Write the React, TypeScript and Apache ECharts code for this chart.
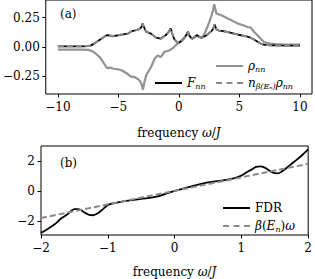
import React, { useEffect, useRef } from "react";
import * as echarts from "echarts";

const FONT = "DejaVu Serif";

// ---- panel (a) data ----
const omegaF = [-10, -9, -8, -7.5, -7.3, -7.0, -6.5, -6.0, -5.9, -5.4, -5.0, -4.6, -4.2, -3.9, -3.6, -3.3, -3.1, -3.0, -2.85, -2.7, -2.3, -1.9, -1.5, -1.1, -0.9, -0.68, -0.5, -0.4, -0.2, 0, 0.2, 0.4, 0.6, 0.75, 0.9, 1.1, 1.3, 1.5, 1.7, 1.9, 2.1, 2.3, 2.5, 2.7, 2.85, 2.95, 3.1, 3.3, 3.65, 4.0, 4.33, 4.7, 5.14, 5.5, 5.81, 6.0, 6.22, 6.5, 6.76, 7.0, 7.3, 7.57, 8, 9, 10];
const fValues = [0.006, 0.006, 0.006, 0.008, 0.012, 0.029, 0.063, 0.098, 0.1, 0.092, 0.1, 0.108, 0.114, 0.135, 0.142, 0.15, 0.17, 0.2, 0.16, 0.128, 0.114, 0.08, 0.071, 0.1, 0.12, 0.157, 0.1, 0.071, 0.045, 0.034, 0.05, 0.071, 0.1, 0.128, 0.09, 0.071, 0.085, 0.1, 0.085, 0.08, 0.09, 0.1, 0.12, 0.135, 0.16, 0.193, 0.15, 0.14, 0.136, 0.128, 0.12, 0.11, 0.1, 0.092, 0.085, 0.075, 0.063, 0.045, 0.029, 0.02, 0.016, 0.014, 0.013, 0.012, 0.012];
const nRhoValues = [0.006, 0.006, 0.006, 0.008, 0.012, 0.029, 0.063, 0.098, 0.1, 0.092, 0.1, 0.108, 0.114, 0.135, 0.142, 0.15, 0.17, 0.2, 0.16, 0.128, 0.114, 0.08, 0.071, 0.1, 0.12, 0.157, 0.1, 0.071, 0.045, 0.034, 0.05, 0.071, 0.1, 0.128, 0.09, 0.071, 0.085, 0.1, 0.085, 0.08, 0.09, 0.1, 0.12, 0.135, 0.16, 0.193, 0.15, 0.14, 0.136, 0.128, 0.12, 0.11, 0.1, 0.092, 0.085, 0.075, 0.063, 0.045, 0.029, 0.02, 0.016, 0.014, 0.013, 0.012, 0.012];
const omegaRho = [-10, -9, -8, -7.5, -7.3, -7.0, -6.5, -6.0, -5.9, -5.7, -5.4, -5.0, -4.7, -4.3, -4.0, -3.6, -3.3, -3.1, -2.97, -2.85, -2.7, -2.3, -2.0, -1.76, -1.6, -1.49, -1.22, -0.81, -0.5, -0.3, 0, 0.2, 0.4, 0.6, 0.75, 0.9, 1.1, 1.3, 1.5, 1.7, 1.9, 2.1, 2.3, 2.5, 2.7, 2.85, 2.92, 3.0, 3.1, 3.5, 4.05, 4.5, 4.87, 5.3, 5.68, 5.95, 6.2, 6.49, 6.76, 7.03, 7.3, 7.57, 8, 8.65, 10];
const rhoValues = [-0.022, -0.022, -0.022, -0.024, -0.03, -0.045, -0.09, -0.17, -0.18, -0.175, -0.185, -0.19, -0.2, -0.225, -0.25, -0.258, -0.28, -0.31, -0.363, -0.3, -0.241, -0.17, -0.1, -0.071, -0.08, -0.085, -0.043, -0.03, -0.01, 0.01, 0.04, 0.055, 0.071, 0.1, 0.128, 0.09, 0.071, 0.085, 0.1, 0.085, 0.08, 0.11, 0.157, 0.21, 0.27, 0.32, 0.364, 0.33, 0.285, 0.27, 0.242, 0.22, 0.2, 0.185, 0.17, 0.165, 0.13, 0.1, 0.07, 0.043, 0.033, 0.029, 0.024, 0.021, 0.021];
const xTicksA = [-10, -5, 0, 5, 10];
const yTicksA = [-0.25, 0, 0.25];

// ---- panel (b) data ----
const omegaB = [-2, -1.9, -1.8, -1.7, -1.6, -1.55, -1.5, -1.45, -1.4, -1.35, -1.28, -1.22, -1.15, -1.08, -1.0, -0.9, -0.75, -0.5, -0.25, 0, 0.25, 0.5, 0.75, 0.9, 1.0, 1.08, 1.15, 1.22, 1.28, 1.35, 1.42, 1.5, 1.55, 1.6, 1.7, 1.8, 1.9, 2];
const fdrValues = [-2.81, -2.55, -2.25, -1.85, -1.55, -1.35, -1.22, -1.22, -1.29, -1.45, -1.6, -1.63, -1.5, -1.25, -0.95, -0.82, -0.69, -0.54, -0.36, 0.0, 0.3, 0.57, 0.72, 0.86, 1.02, 1.24, 1.42, 1.6, 1.64, 1.55, 1.35, 1.18, 1.17, 1.28, 1.62, 1.98, 2.35, 2.77];
const omegaBeta = [-2, 2];
const betaOmegaValues = [-1.81, 1.81];
const xTicksB = [-2, -1, 0, 1, 2];
const yTicksB = [-2, 0, 2];

const pairs = (xs: number[], ys: number[]) => xs.map((x, i) => [x, ys[i]]);
const fmtMinus = (s: string) => s.replace("-", "\u2212");

const richBase = {
  i: { fontFamily: FONT, fontStyle: "italic", fontSize: 12, color: "#000" },
  s: { fontFamily: FONT, fontStyle: "italic", fontSize: 8, color: "#000", padding: [7, 0, 0, 0] },
  r: { fontFamily: FONT, fontSize: 12, color: "#000" },
};

const SOLID_ICON = "path://M0,0h27v2h-27z";
const DASH_ICON = "path://M0,0h6v2h-6zM10.5,0h6v2h-6zM21,0h6v2h-6z";

export default function App() {
  const ref = useRef<HTMLDivElement>(null);
  useEffect(() => {
    document.body.style.margin = "0";
    const chart = echarts.init(ref.current!, undefined, { renderer: "svg" });
    const axisLabelStyle = { fontFamily: FONT, fontSize: 12, color: "#000" };
    const tick = { show: true, length: 3.5, lineStyle: { color: "#000", width: 1 } };
    const legendCommon = {
      orient: "horizontal" as const,
      padding: 0,
      itemWidth: 27,
      itemHeight: 2,
      itemStyle: { borderWidth: 0 },
      lineStyle: { width: 0 },
      textStyle: { fontFamily: FONT, fontSize: 12, color: "#000", rich: richBase },
      formatter: (name: string) => {
        if (name === "rho") return "{i|\u03c1}{s|nn}";
        if (name === "F") return "{i|F}{s|nn}";
        if (name === "nrho") return "{i|n}{s|\u03b2(E\u2099)}{i|\u03c1}{s|nn}";
        if (name === "FDR") return "{r|FDR}";
        return "{i|\u03b2}{r|(}{i|E}{s|n}{r|)}{i|\u03c9}";
      },
    };
    const xName = "{r|frequency }{i|\u03c9}{r|/}{i|J}";
    const hiddenLine = { show: false, onZero: false };
    chart.setOption({
      animation: false,
      grid: [
        { left: 41, right: 3, top: 0, height: 94, show: true, borderColor: "#000", borderWidth: 1, backgroundColor: "transparent" },
        { left: 41, right: 3, top: 146, height: 93, show: true, borderColor: "#000", borderWidth: 1, backgroundColor: "transparent" },
      ],
      xAxis: [
        {
          type: "value", gridIndex: 0, min: -11, max: 11,
          axisLine: hiddenLine, splitLine: { show: false },
          axisTick: { ...tick, customValues: xTicksA },
          axisLabel: { ...axisLabelStyle, margin: 7, customValues: xTicksA, formatter: (v: number) => fmtMinus(String(v)) },
          name: xName, nameLocation: "middle", nameGap: 33,
          nameTextStyle: { fontFamily: FONT, fontSize: 12, color: "#000", rich: richBase },
        },
        {
          type: "value", gridIndex: 1, min: -2, max: 2, interval: 1,
          axisLine: hiddenLine, splitLine: { show: false },
          axisTick: { ...tick, customValues: xTicksB },
          axisLabel: { ...axisLabelStyle, margin: 7, customValues: xTicksB, formatter: (v: number) => fmtMinus(String(v)) },
          name: xName, nameLocation: "middle", nameGap: 31,
          nameTextStyle: { fontFamily: FONT, fontSize: 12, color: "#000", rich: richBase },
        },
      ],
      yAxis: [
        {
          type: "value", gridIndex: 0, min: -0.4, max: 0.4,
          axisLine: hiddenLine, splitLine: { show: false },
          axisTick: { ...tick, customValues: yTicksA },
          axisLabel: { ...axisLabelStyle, margin: 6, customValues: yTicksA, formatter: (v: number) => fmtMinus(v.toFixed(2)) },
        },
        {
          type: "value", gridIndex: 1, min: -2.95, max: 3.0,
          axisLine: hiddenLine, splitLine: { show: false },
          axisTick: { ...tick, customValues: yTicksB },
          axisLabel: { ...axisLabelStyle, margin: 6, customValues: yTicksB, formatter: (v: number) => fmtMinus(String(v)) },
        },
      ],
      legend: [
        { ...legendCommon, data: [{ name: "rho", icon: SOLID_ICON, itemStyle: { color: "#929292" } }], left: 216, top: 60 },
        { ...legendCommon, data: [{ name: "F", icon: SOLID_ICON, itemStyle: { color: "#000" } }], left: 155, top: 77 },
        { ...legendCommon, data: [{ name: "nrho", icon: DASH_ICON, itemStyle: { color: "#8a8a8a" } }], left: 216, top: 77 },
        { ...legendCommon, data: [{ name: "FDR", icon: SOLID_ICON, itemStyle: { color: "#000" } }], left: 223, top: 202 },
        { ...legendCommon, data: [{ name: "beta", icon: DASH_ICON, itemStyle: { color: "#8a8a8a" } }], left: 223, top: 220 },
      ],
      graphic: [
        { type: "text", left: 60, top: 8, style: { text: "(a)", fontFamily: FONT, fontSize: 12, fill: "#000" } },
        { type: "text", left: 60, top: 157, style: { text: "(b)", fontFamily: FONT, fontSize: 12, fill: "#000" } },
      ],
      series: [
        {
          name: "rho", type: "line", xAxisIndex: 0, yAxisIndex: 0, symbol: "none",
          data: pairs(omegaRho, rhoValues), lineStyle: { color: "#929292", width: 2.2 }, itemStyle: { color: "#929292" },
        },
        {
          name: "F", type: "line", xAxisIndex: 0, yAxisIndex: 0, symbol: "none",
          data: pairs(omegaF, fValues), lineStyle: { color: "#000", width: 1.8 }, itemStyle: { color: "#000" },
        },
        {
          name: "nrho", type: "line", xAxisIndex: 0, yAxisIndex: 0, symbol: "none",
          data: pairs(omegaF, nRhoValues), lineStyle: { color: "#8a8a8a", width: 2, type: [6, 3] }, itemStyle: { color: "#8a8a8a" },
        },
        {
          name: "FDR", type: "line", xAxisIndex: 1, yAxisIndex: 1, symbol: "none", smooth: 0.35,
          data: pairs(omegaB, fdrValues), lineStyle: { color: "#000", width: 1.8 }, itemStyle: { color: "#000" },
        },
        {
          name: "beta", type: "line", xAxisIndex: 1, yAxisIndex: 1, symbol: "none",
          data: pairs(omegaBeta, betaOmegaValues), lineStyle: { color: "#8a8a8a", width: 2, type: [6, 3] }, itemStyle: { color: "#8a8a8a" },
        },
      ],
    });
    return () => chart.dispose();
  }, []);
  return <div ref={ref} style={{ width: 315, height: 279, position: "absolute", left: 0, top: 0 }} />;
}
